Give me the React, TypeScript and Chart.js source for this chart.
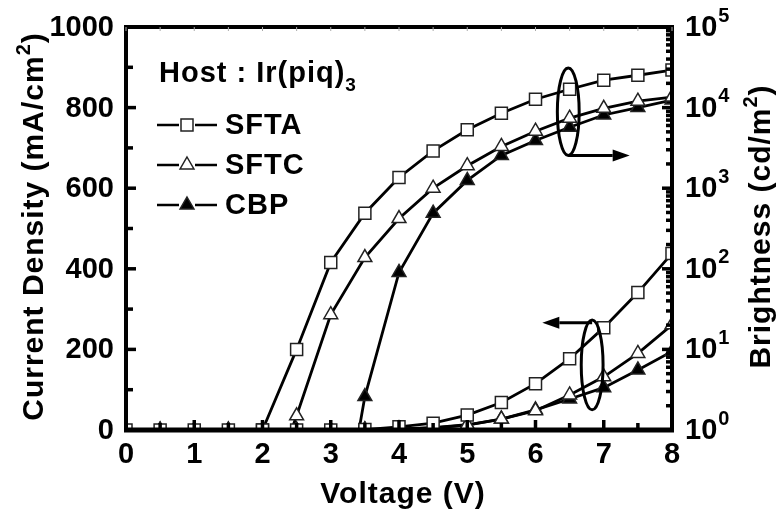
import React, { useEffect, useRef } from "react";
import { Chart, registerables } from "chart.js";

Chart.register(...registerables);

// ---------- data ----------
const voltage = [0, 0.5, 1, 1.5, 2, 2.5, 3, 3.5, 4, 4.5, 5, 5.5, 6, 6.5, 7, 7.5, 8];

// current density (mA/cm^2), left axis
const jSFTA = [0, 0, 0, 0, 0, 0, 0, 1, 8, 17, 37, 68, 115, 177, 254, 341, 438];
const jSFTC = [0, 0, 0, 0, 0, 0, 0, 0.5, 3, 6, 13, 27, 48, 87, 132, 190, 261];
const jCBP = [0, 0, 0, 0, 0, 0, 0, 0.3, 2, 5, 12, 27, 50, 77, 105, 149, 195];

// brightness (cd/m^2), right log axis
const bSFTA = [null, null, null, null, 1.0, 10, 120, 490, 1360, 2900, 5300, 8500, 12700, 16900, 21900, 25200, 29200];
const bSFTC = [null, null, null, null, 0.1, 1.5, 27, 138, 420, 1000, 1900, 3300, 5100, 7400, 9800, 12000, 13500];
const bCBP = [null, null, null, null, null, null, 0.01, 2.6, 90, 490, 1250, 2550, 3900, 5700, 8100, 10000, 12400];

const seriesNames = ["SFTA", "SFTC", "CBP"];

// ticks
const xTicks = [0, 1, 2, 3, 4, 5, 6, 7, 8];
const xMinorTicks = [0.5, 1.5, 2.5, 3.5, 4.5, 5.5, 6.5, 7.5];
const jTicks = [0, 200, 400, 600, 800, 1000];
const jMinorTicks = [100, 300, 500, 700, 900];
const bTickExps = [0, 1, 2, 3, 4, 5];

// annotations (data coordinates)
const ellipseBrightness = { v: 6.48, halfV: 0.16, top: 31000, bottom: 2550 };
const arrowBrightness = { from: 6.48, to: 7.38, at: 2550 };
const ellipseCurrent = { v: 6.83, halfV: 0.16, top: 273, bottom: 50 };
const arrowCurrent = { from: 6.83, to: 6.1, at: 266 };

const FONT = '"Liberation Sans", Arial, Helvetica, sans-serif';

type Part = { t: string; size: number; dy?: number };

function drawRich(ctx: CanvasRenderingContext2D, parts: Part[], x: number, y: number, align: "left" | "center", spacing: string) {
  ctx.save();
  (ctx as any).letterSpacing = spacing;
  ctx.textAlign = "left";
  let total = 0;
  const widths = parts.map((p) => {
    ctx.font = `bold ${p.size}px ${FONT}`;
    const w = ctx.measureText(p.t).width;
    total += w;
    return w;
  });
  let cx = align === "center" ? x - total / 2 : x;
  parts.forEach((p, i) => {
    ctx.font = `bold ${p.size}px ${FONT}`;
    ctx.fillText(p.t, cx, y + (p.dy || 0));
    cx += widths[i];
  });
  ctx.restore();
  return total;
}

function marker(ctx: CanvasRenderingContext2D, style: number, x: number, y: number) {
  ctx.save();
  ctx.lineWidth = 1.5;
  ctx.strokeStyle = "#222";
  if (style === 0) {
    const s = 6;
    ctx.fillStyle = "#fff";
    ctx.fillRect(x - s, y - s, 2 * s, 2 * s);
    ctx.strokeRect(x - s, y - s, 2 * s, 2 * s);
  } else {
    const r = 8;
    ctx.beginPath();
    ctx.moveTo(x, y - r);
    ctx.lineTo(x + r * 0.866, y + r * 0.5);
    ctx.lineTo(x - r * 0.866, y + r * 0.5);
    ctx.closePath();
    ctx.fillStyle = style === 1 ? "#fff" : "#000";
    ctx.fill();
    ctx.stroke();
  }
  ctx.restore();
}

const decorPlugin = {
  id: "decor",
  afterDraw(chart: any) {
    const ctx: CanvasRenderingContext2D = chart.ctx;
    const { left, right, top, bottom } = chart.chartArea;
    const xs = chart.scales.x;
    const ys = chart.scales.y;
    const y2 = chart.scales.y2;

    ctx.save();
    ctx.strokeStyle = "#000";
    ctx.fillStyle = "#000";

    // ellipses + arrows
    ctx.lineWidth = 3;
    const drawEllipse = (e: any, sc: any) => {
      const cx = xs.getPixelForValue(e.v);
      const rx = xs.getPixelForValue(e.v + e.halfV) - cx;
      const yt = sc.getPixelForValue(e.top);
      const yb = sc.getPixelForValue(e.bottom);
      ctx.beginPath();
      ctx.ellipse(cx, (yt + yb) / 2, rx, (yb - yt) / 2, 0, 0, Math.PI * 2);
      ctx.stroke();
    };
    const drawArrow = (a: any, sc: any) => {
      const x0 = xs.getPixelForValue(a.from);
      const x1 = xs.getPixelForValue(a.to);
      const yy = sc.getPixelForValue(a.at);
      const dir = Math.sign(x1 - x0);
      const hl = 17;
      ctx.beginPath();
      ctx.moveTo(x0, yy);
      ctx.lineTo(x1 - dir * hl, yy);
      ctx.stroke();
      ctx.beginPath();
      ctx.moveTo(x1, yy);
      ctx.lineTo(x1 - dir * hl, yy - 6);
      ctx.lineTo(x1 - dir * hl, yy + 6);
      ctx.closePath();
      ctx.fill();
    };
    drawEllipse(ellipseBrightness, y2);
    drawArrow(arrowBrightness, y2);
    drawEllipse(ellipseCurrent, ys);
    drawArrow(arrowCurrent, ys);

    // frame
    ctx.lineWidth = 4;
    ctx.strokeRect(left, top, right - left, bottom - top);
    ctx.lineWidth = 5;
    ctx.beginPath();
    ctx.moveTo(left - 2, bottom);
    ctx.lineTo(right + 2, bottom);
    ctx.stroke();

    // ticks
    ctx.lineWidth = 3.5;
    const vt = (x: number, y0: number, len: number) => {
      ctx.beginPath();
      ctx.moveTo(x, y0);
      ctx.lineTo(x, y0 + len);
      ctx.stroke();
    };
    const ht = (y: number, x0: number, len: number) => {
      ctx.beginPath();
      ctx.moveTo(x0, y);
      ctx.lineTo(x0 + len, y);
      ctx.stroke();
    };
    xTicks.forEach((v) => vt(xs.getPixelForValue(v), bottom, -10));
    xMinorTicks.forEach((v) => vt(xs.getPixelForValue(v), bottom, -7));
    jTicks.forEach((v) => ht(ys.getPixelForValue(v), left, 10));
    jMinorTicks.forEach((v) => ht(ys.getPixelForValue(v), left, 7));
    bTickExps.forEach((e, i) => {
      ht(y2.getPixelForValue(Math.pow(10, e)), right, -10);
      if (i < bTickExps.length - 1) {
        for (let m = 2; m <= 9; m++) ht(y2.getPixelForValue(m * Math.pow(10, e)), right, -6);
      }
    });
    // faint top ticks
    ctx.save();
    ctx.strokeStyle = "#aaa";
    ctx.lineWidth = 1;
    xTicks.concat(xMinorTicks).forEach((v) => vt(xs.getPixelForValue(v), top, 4));
    ctx.restore();

    // tick labels
    ctx.textBaseline = "middle";
    ctx.font = `bold 29px ${FONT}`;
    ctx.textAlign = "center";
    xTicks.forEach((v) => ctx.fillText(String(v), xs.getPixelForValue(v), bottom + 25));
    ctx.textAlign = "right";
    jTicks.forEach((v) => ctx.fillText(String(v), left - 12, ys.getPixelForValue(v) + 1));
    ctx.textAlign = "left";
    bTickExps.forEach((e) => {
      const yy = y2.getPixelForValue(Math.pow(10, e)) + 1;
      ctx.font = `bold 29px ${FONT}`;
      const w = ctx.measureText("10").width;
      ctx.fillText("10", right + 13, yy);
      ctx.font = `bold 20px ${FONT}`;
      ctx.fillText(String(e), right + 13 + w + 1, yy - 12);
    });

    // axis titles
    ctx.textBaseline = "alphabetic";
    drawRich(ctx, [{ t: "Voltage (V)", size: 30 }], (left + right) / 2 + 4, 503, "center", "1px");

    const midY = (top + bottom) / 2 - 2;
    ctx.save();
    ctx.translate(43, midY);
    ctx.rotate(-Math.PI / 2);
    drawRich(ctx, [
      { t: "Current Density (mA/cm", size: 30 },
      { t: "2", size: 20, dy: -13 },
      { t: ")", size: 30 },
    ], 0, 0, "center", "1px");
    ctx.restore();

    ctx.save();
    ctx.translate(770, midY);
    ctx.rotate(-Math.PI / 2);
    drawRich(ctx, [
      { t: "Brightness (cd/m", size: 30 },
      { t: "2", size: 20, dy: -13 },
      { t: ")", size: 30 },
    ], 0, 0, "center", "1px");
    ctx.restore();

    // legend block
    const lx = left + 33;
    drawRich(ctx, [
      { t: "Host : Ir(piq)", size: 29 },
      { t: "3", size: 19, dy: 9 },
    ], lx, 82, "left", "1px");
    seriesNames.forEach((name, i) => {
      const yy = 125 + 40 * i;
      ctx.lineWidth = 2.5;
      ctx.beginPath();
      ctx.moveTo(left + 31, yy);
      ctx.lineTo(left + 53, yy);
      ctx.moveTo(left + 69, yy);
      ctx.lineTo(left + 91, yy);
      ctx.stroke();
      marker(ctx, i, left + 61, yy);
      ctx.textBaseline = "middle";
      drawRich(ctx, [{ t: name, size: 29 }], left + 99, yy + 1, "left", "1px");
    });

    ctx.restore();
  },
};

function mk(arr: (number | null)[], yAxisID: string, style: number) {
  return {
    data: voltage.map((v, i) => ({ x: v, y: arr[i] })),
    yAxisID,
    borderColor: "#000",
    borderWidth: 2.8,
    pointStyle: style === 0 ? "rect" : "triangle",
    pointRadius: style === 0 ? 8.5 : 8,
    pointBackgroundColor: style === 2 ? "#000" : "#fff",
    pointBorderColor: "#222",
    pointBorderWidth: 1.5,
    tension: 0,
    spanGaps: false,
  };
}

export default function App() {
  const ref = useRef<HTMLCanvasElement | null>(null);
  useEffect(() => {
    document.body.style.margin = "0";
    const canvas = ref.current;
    if (!canvas) return;
    const chart = new Chart(canvas, {
      type: "line",
      data: {
        datasets: [
          mk(jSFTA, "y", 0),
          mk(jSFTC, "y", 1),
          mk(jCBP, "y", 2),
          mk(bSFTA, "y2", 0),
          mk(bSFTC, "y2", 1),
          mk(bCBP, "y2", 2),
        ] as any,
      },
      options: {
        animation: false,
        responsive: false,
        devicePixelRatio: 1,
        layout: { padding: { left: 126, right: 105, top: 27, bottom: 85 } },
        plugins: { legend: { display: false }, tooltip: { enabled: false } },
        scales: {
          x: { type: "linear", min: 0, max: 8, display: false },
          y: { type: "linear", min: 0, max: 1000, display: false },
          y2: { type: "logarithmic", min: 1, max: 100000, display: false },
        },
      },
      plugins: [decorPlugin],
    });
    return () => chart.destroy();
  }, []);
  return (
    <div style={{ width: 777, height: 515, background: "#fff" }}>
      <canvas ref={ref} width={777} height={515} />
    </div>
  );
}
